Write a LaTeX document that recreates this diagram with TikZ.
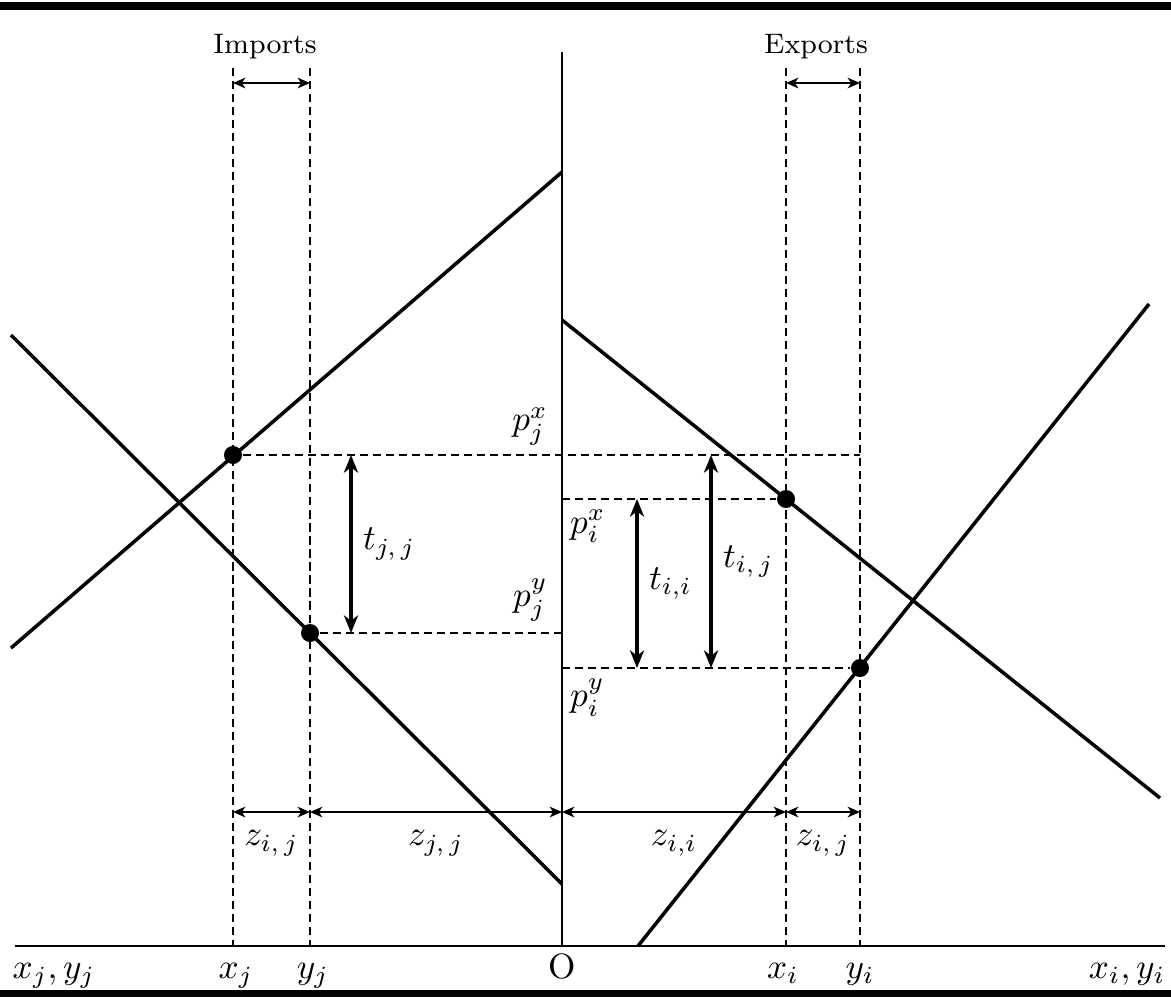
\documentclass[tikz,border=0pt]{standalone}
\usetikzlibrary{arrows.meta}

\begin{document}
\begin{tikzpicture}[
    x=0.01cm, y=-0.01cm,
    market line/.style={line width=1pt},
    axis line/.style={line width=0.45pt},
    rule line/.style={line width=2pt},
    guide line/.style={line width=0.55pt, dash pattern=on 2.3pt off 1.4pt},
    gap arrow/.style={<->, >={Stealth[length=5pt, width=4pt, inset=1.5pt]}, line width=0.9pt},
    width arrow/.style={<->, >={Stealth[length=3.5pt, width=3pt, inset=1pt]}, line width=0.7pt},
    eq dot/.style={circle, fill=black, inner sep=0pt, minimum size=1.8mm},
    label text/.style={font=\fontsize{8}{10}\selectfont, inner sep=1pt},
    var text/.style={font=\fontsize{10}{12}\selectfont, inner sep=1pt}
]
    \useasboundingbox (0,0) rectangle (1171,999);

    % Frame and axes
    \draw[rule line] (0,6) -- (1171,6);
    \draw[rule line] (0,993) -- (1171,993);
    \coordinate (O) at (562,946);
    \coordinate (axis top) at (562,52);
    \coordinate (axis west) at (15,946);
    \coordinate (axis east) at (1165,946);
    \draw[axis line] (axis west) -- (axis east);
    \draw[axis line] (O) -- (axis top);

    % Market lines
    \coordinate (sj start) at (11,648);
    \coordinate (sj end) at (562,172);
    \coordinate (dj start) at (11,335);
    \coordinate (dj end) at (562,884);
    \coordinate (di start) at (562,320);
    \coordinate (di end) at (1160,798);
    \coordinate (si start) at (638,946);
    \coordinate (si end) at (1149,304);
    \draw[market line] (sj start) -- (sj end);
    \draw[market line] (dj start) -- (dj end);
    \draw[market line] (di start) -- (di end);
    \draw[market line] (si start) -- (si end);

    % Equilibrium points
    \node[eq dot] (pjx) at (233,455) {};
    \node[eq dot] (pjy) at (310,633) {};
    \node[eq dot] (pix) at (786,499) {};
    \node[eq dot] (piy) at (860,668) {};

    % Quantity guides
    \coordinate (xj) at (233,946);
    \coordinate (yj) at (310,946);
    \coordinate (xi) at (786,946);
    \coordinate (yi) at (860,946);
    \coordinate (xj top) at (233,68);
    \coordinate (yj top) at (310,68);
    \coordinate (xi top) at (786,68);
    \coordinate (yi top) at (860,68);
    \draw[guide line] (xj top) -- (xj);
    \draw[guide line] (yj top) -- (yj);
    \draw[guide line] (xi top) -- (xi);
    \draw[guide line] (yi top) -- (yi);

    % Price guides
    \coordinate (pjx east) at (860,455);
    \coordinate (pjy axis) at (562,633);
    \coordinate (pix axis) at (562,499);
    \coordinate (piy axis) at (562,668);
    \draw[guide line] (pjx) -- (pjx east);
    \draw[guide line] (pjy) -- (pjy axis);
    \draw[guide line] (pix axis) -- (pix);
    \draw[guide line] (piy axis) -- (piy);

    % Price gaps
    \draw[gap arrow] (351,455) -- node[var text, right=2pt] {$t_{j,\,j}$} (351,633);
    \draw[gap arrow] (637,499) -- node[var text, right=2pt] {$t_{i,i}$} (637,668);
    \draw[gap arrow] (711,455) -- node[var text, right=2pt] {$t_{i,\,j}$} (711,668);

    % Trade widths
    \draw[width arrow] (233,83) -- (310,83);
    \draw[width arrow] (786,83) -- (860,83);
    \node[label text, anchor=base] (imports) at (265,53) {Imports};
    \node[label text, anchor=base] (exports) at (816,53) {Exports};

    \draw[width arrow] (233,812) -- node[var text, below=4pt] {$z_{i,\,j}$} (310,812);
    \draw[width arrow] (310,812) -- node[var text, below=4pt] {$z_{j,\,j}$} (562,812);
    \draw[width arrow] (562,812) -- node[var text, below=4pt] {$z_{i,i}$} (786,812);
    \draw[width arrow] (786,812) -- node[var text, below=4pt] {$z_{i,\,j}$} (860,812);

    % Price labels
    \node[var text, anchor=south east] (pjx label) at (552,449) {$p_j^x$};
    \node[var text, anchor=south east] (pjy label) at (552,625) {$p_j^y$};
    \node[var text, anchor=north west] (pix label) at (566,506) {$p_i^x$};
    \node[var text, anchor=north west] (piy label) at (566,675) {$p_i^y$};

    % Axis labels
    \node[var text, anchor=base] (xj label) at (236,978) {$x_j$};
    \node[var text, anchor=base] (yj label) at (313,978) {$y_j$};
    \node[var text, anchor=base] (O label) at (562,978) {O};
    \node[var text, anchor=base] (xi label) at (783,978) {$x_i$};
    \node[var text, anchor=base] (yi label) at (860,978) {$y_i$};
    \node[var text, anchor=base] (jaxis label) at (54,978) {$x_j, y_j$};
    \node[var text, anchor=base] (iaxis label) at (1127,978) {$x_i, y_i$};

\end{tikzpicture}
\end{document}
